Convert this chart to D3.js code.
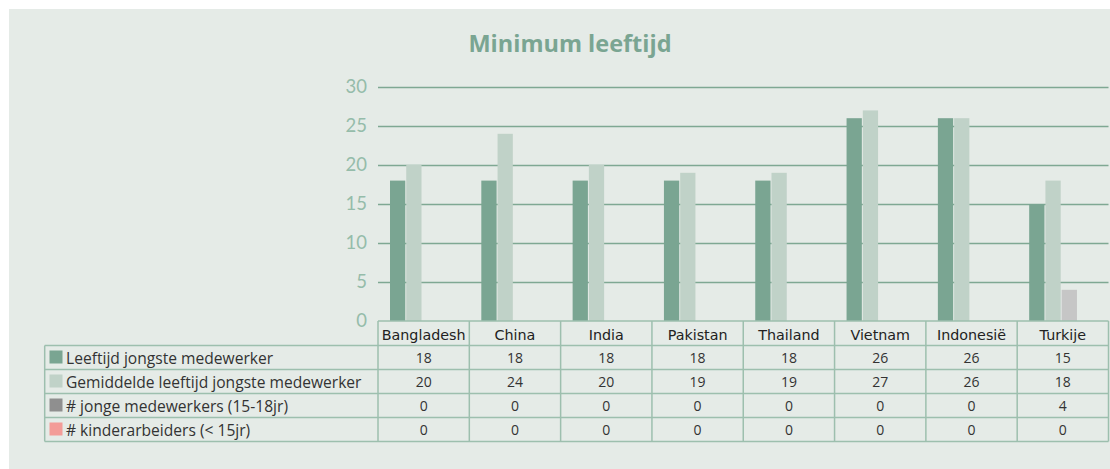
<!DOCTYPE html>
<html><head><meta charset="utf-8">
<script src="https://cdn.jsdelivr.net/npm/d3@7"></script>
<style>html,body{margin:0;padding:0;background:#fff;}svg{display:block;}</style>
</head><body>
<svg id="chart" width="1110" height="469"></svg>
<script>
const title = "Minimum leeftijd";
const categories = ["Bangladesh","China","India","Pakistan","Thailand","Vietnam","Indonesië","Turkije"];
const seriesNames = ["Leeftijd jongste medewerker","Gemiddelde leeftijd jongste medewerker","# jonge medewerkers (15-18jr)","# kinderarbeiders (< 15jr)"];
const leeftijdJongste = [18,18,18,18,18,26,26,15];
const gemiddeldeLeeftijd = [20,24,20,19,19,27,26,18];
const jongeMedewerkers = [0,0,0,0,0,0,0,4];
const kinderarbeiders = [0,0,0,0,0,0,0,0];
const yTicks = [0,5,10,15,20,25,30];
const barColors = ["#7aa592","#c0d2c8","#c6c6c6","#f39c98"];
const legendColors = ["#7aa592","#c0d2c8","#8f8f8f","#f39c98"];

const seriesValues = [leeftijdJongste, gemiddeldeLeeftijd, jongeMedewerkers, kinderarbeiders];

const svg = d3.select("#chart");
svg.append("rect").attr("x",9).attr("y",9).attr("width",1101).attr("height",460).attr("fill","#e5ebe7");

const pLeft = 378, pRight = 1108.5, pTop = 87, pBottom = 321;
const x0 = d3.scaleBand().domain(categories).range([pLeft,pRight]).padding(0);
const x1 = d3.scaleBand().domain(d3.range(4)).range([12,76]).paddingInner(0.06);
const y = d3.scaleLinear().domain([0,30]).range([pBottom,pTop]);

// title
svg.append("text").attr("x",570).attr("y",52).attr("text-anchor","middle")
  .attr("font-family","'Open Sans', sans-serif").attr("font-weight",700)
  .attr("font-size",23.5).attr("fill","#7aa592").text(title);

// gridlines
const yAxis = d3.axisLeft(y).tickValues(yTicks).tickSize(-(pRight-pLeft)).tickPadding(11).tickFormat(d3.format("d"));
const ga = svg.append("g").attr("transform",`translate(${pLeft},0)`).call(yAxis);
ga.select(".domain").remove();
ga.selectAll(".tick line").attr("stroke","#7fa893").attr("stroke-width",1.5);
ga.selectAll(".tick").filter(d=>d===0).select("line").remove();
ga.selectAll(".tick text").attr("font-family","Lato, 'Open Sans', sans-serif").attr("font-weight",400)
  .attr("font-size",18.5).attr("fill","#95bcaa");

// bars
const groups = svg.append("g").selectAll("g").data(categories).join("g")
  .attr("transform",d=>`translate(${x0(d)},0)`);
groups.selectAll("rect").data((c,i)=>seriesValues.map((s,j)=>({j, v:s[i]}))).join("rect")
  .attr("x",d=>x1(d.j)).attr("width",x1.bandwidth())
  .attr("y",d=>y(d.v)).attr("height",d=>y(0)-y(d.v))
  .attr("fill",d=>barColors[d.j]);

// table
const rowH = 24;
const headTop = pBottom, bodyTop = pBottom+24.5;
const legendLeft = 44.7;
const tbl = svg.append("g");
const lineColor = "#9dbfae";
tbl.selectAll("text.h").data(categories).join("text").attr("class","h")
  .attr("x",d=>x0(d)+x0.bandwidth()/2).attr("y",headTop+19)
  .attr("text-anchor","middle").attr("font-family","'DejaVu Sans', sans-serif")
  .attr("font-size",14.3).attr("fill","#222").text(d=>d);
seriesNames.forEach((name,r)=>{
  const ry = bodyTop + r*rowH;
  tbl.append("rect").attr("x",49.5).attr("y",ry+5).attr("width",13).attr("height",13).attr("fill",legendColors[r]);
  tbl.append("text").attr("x",66).attr("y",ry+18).attr("font-family","'Open Sans', sans-serif")
    .attr("font-size",15.6).attr("fill","#333").text(name);
  tbl.selectAll(null).data(seriesValues[r]).join("text")
    .attr("x",(d,i)=>x0(categories[i])+x0.bandwidth()/2).attr("y",ry+17.5)
    .attr("text-anchor","middle").attr("font-family","'Open Sans', sans-serif")
    .attr("font-size",14).attr("fill","#333").text(d=>d);
});
const hl = [[pLeft,headTop]].concat(d3.range(5).map(i=>[legendLeft,bodyTop+i*rowH]));
hl.forEach(([x,yy])=>tbl.append("line").attr("x1",x).attr("x2",pRight).attr("y1",yy).attr("y2",yy)
  .attr("stroke",lineColor).attr("stroke-width",1.5));
categories.forEach((c,i)=>tbl.append("line").attr("x1",x0(c)).attr("x2",x0(c)).attr("y1",headTop).attr("y2",bodyTop+4*rowH)
  .attr("stroke",lineColor).attr("stroke-width",1.5));
tbl.append("line").attr("x1",pRight).attr("x2",pRight).attr("y1",headTop).attr("y2",bodyTop+4*rowH).attr("stroke",lineColor).attr("stroke-width",1.5);
tbl.append("line").attr("x1",legendLeft).attr("x2",legendLeft).attr("y1",bodyTop).attr("y2",bodyTop+4*rowH).attr("stroke",lineColor).attr("stroke-width",1.5);
</script>
</body></html>
